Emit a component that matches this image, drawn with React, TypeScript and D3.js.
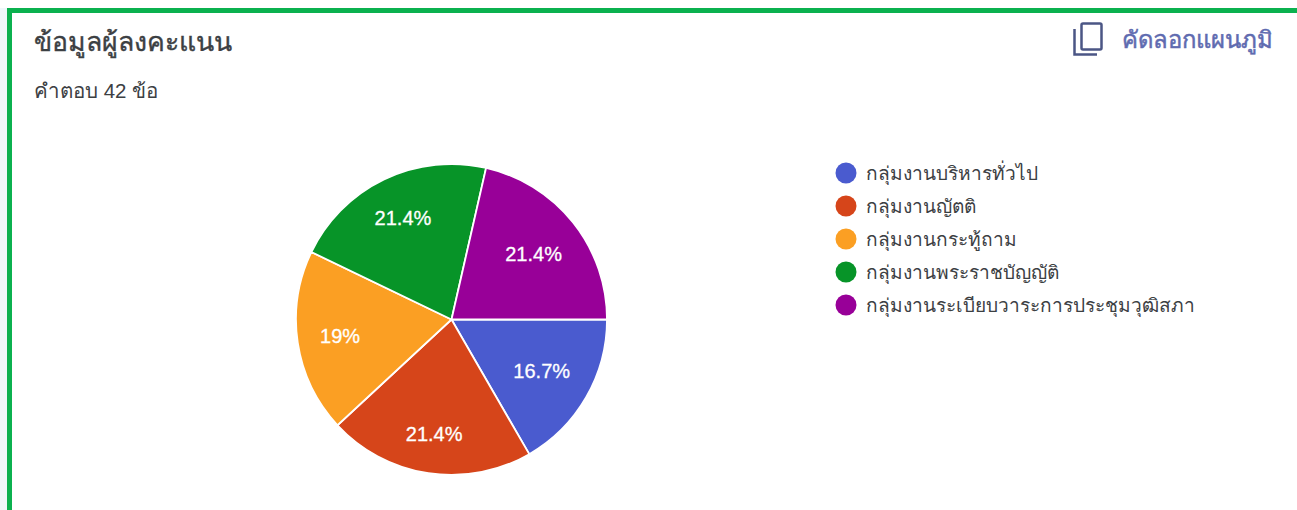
import React from "react";
import * as d3 from "d3";

const categories = [
  "กลุ่มงานบริหารทั่วไป",
  "กลุ่มงานญัตติ",
  "กลุ่มงานกระทู้ถาม",
  "กลุ่มงานพระราชบัญญัติ",
  "กลุ่มงานระเบียบวาระการประชุมวุฒิสภา",
];
const counts = [7, 9, 8, 9, 9];
const sliceLabels = ["16.7%", "21.4%", "19%", "21.4%", "21.4%"];
const colors = ["#4a5bcf", "#d6451a", "#fb9f23", "#079428", "#980098"];
const titleText = "ข้อมูลผู้ลงคะแนน";
const subtitleText = "คำตอบ 42 ข้อ";
const copyText = "คัดลอกแผนภูมิ";

const WIDTH = 1297;
const HEIGHT = 510;
const FONT = "'Liberation Sans', Roboto, 'Noto Sans', 'DejaVu Sans', sans-serif";
// Distance of each slice label from the pie centre, as a share of the radius.
const labelReach = [0.67, 0.75, 0.725, 0.72, 0.675];

export default function App() {
  const cx = 451.5;
  const cy = 319.5;
  const radius = 155.5;
  const pie = d3
    .pie<number>()
    .sort(null)
    .startAngle(Math.PI / 2)
    .endAngle(Math.PI / 2 + 2 * Math.PI);
  const arcs = pie(counts);
  const arc = d3.arc<d3.PieArcDatum<number>>().innerRadius(0).outerRadius(radius);
  const legendY = d3.scalePoint<string>().domain(categories).range([173, 305]);

  return (
    <svg
      width={WIDTH}
      height={HEIGHT}
      style={{ position: "absolute", left: 0, top: 0, background: "#fff", fontFamily: FONT }}
    >
      <rect x={0} y={8} width={7} height={HEIGHT - 8} fill="#eef7fa" />
      <rect x={7} y={8} width={WIDTH - 7} height={5} fill="#0bb14f" />
      <rect x={7} y={8} width={5} height={HEIGHT - 8} fill="#0bb14f" />

      <text x={34} y={51} fontSize={26.6} fill="#3c4043" stroke="#3c4043" strokeWidth={0.4}>{titleText}</text>
      <text x={34} y={98} fontSize={20.5} fill="#3c4043">{subtitleText}</text>

      <g fill="none" stroke="#4b5685" strokeWidth={2.5}>
        <rect x={1081.5} y={23.5} width={20} height={26} rx={1.5} />
        <path d="M1074.5 29 V54.5 H1097" />
      </g>
      <text x={1122} y={48} fontSize={23.8} fill="#5f6bb0" stroke="#5f6bb0" strokeWidth={0.5}>{copyText}</text>

      <g transform={`translate(${cx},${cy})`}>
        {arcs.map((d, i) => (
          <path key={categories[i]} d={arc(d) ?? ""} fill={colors[i]} stroke="#fff" strokeWidth={1.8} />
        ))}
        {arcs.map((d, i) => {
          const r = radius * labelReach[i];
          const [x, y] = d3.arc<d3.PieArcDatum<number>>().innerRadius(r).outerRadius(r).centroid(d);
          return (
            <text key={categories[i]} x={x} y={y + 6.5} textAnchor="middle" fontSize={20} fill="#fff" stroke="#fff" strokeWidth={0.3}>
              {sliceLabels[i]}
            </text>
          );
        })}
      </g>

      {categories.map((c, i) => {
        const y = legendY(c) ?? 0;
        return (
          <g key={c}>
            <circle cx={846} cy={y} r={10.5} fill={colors[i]} />
            <text x={866} y={y + 7} fontSize={19.1} fill="#3c4043">{c}</text>
          </g>
        );
      })}
    </svg>
  );
}
